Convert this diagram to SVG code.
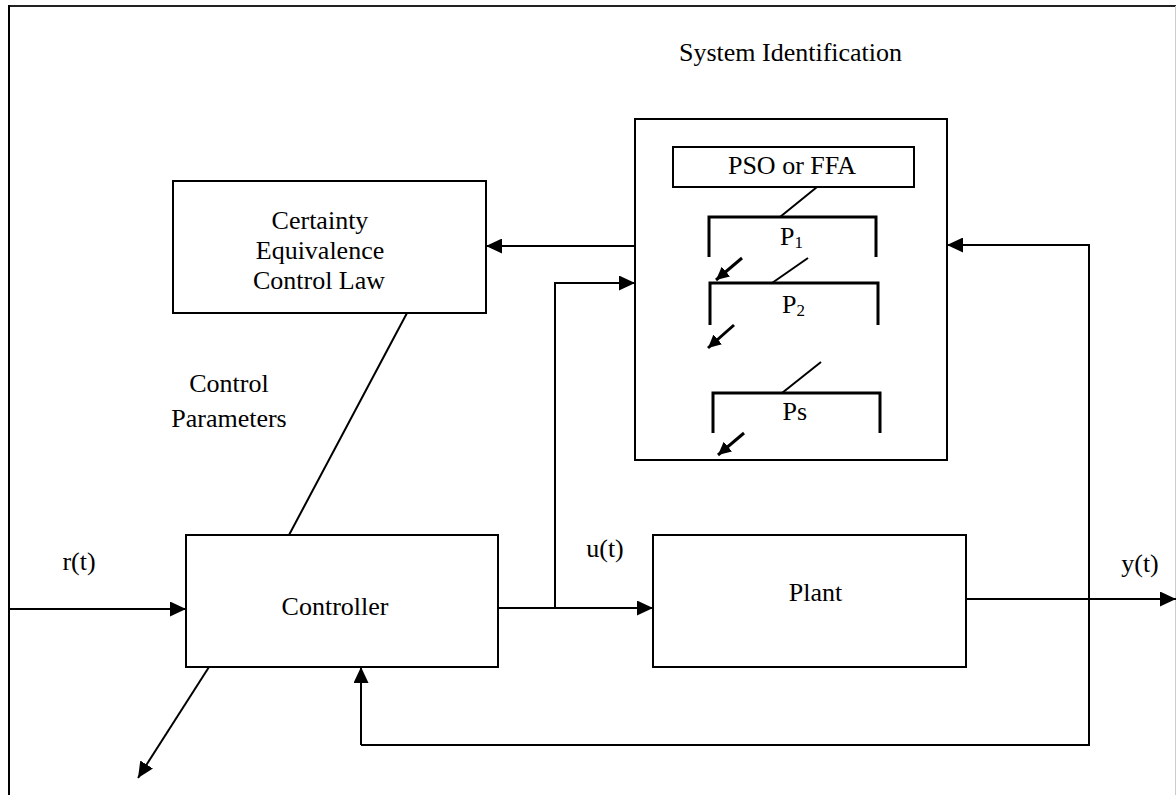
<svg xmlns="http://www.w3.org/2000/svg" width="1176" height="795" viewBox="0 0 1176 795">
  <style>
    .box { fill: #ffffff; stroke: #000000; stroke-width: 2; }
    .ln { fill: none; stroke: #000000; stroke-width: 2; }
    .thick { fill: none; stroke: #000000; stroke-width: 3; }
    .lbl { font-family: "Liberation Serif", "Times New Roman", serif; font-size: 26px; fill: #000000; }
    .mid { text-anchor: middle; }
  </style>
  <defs>
    <marker id="arrow" markerUnits="userSpaceOnUse" markerWidth="16" markerHeight="15" refX="16" refY="7.5" orient="auto">
      <path d="M0,0 L16,7.5 L0,15 z" fill="#000000"/>
    </marker>
    <marker id="arrow-small" markerUnits="userSpaceOnUse" markerWidth="13" markerHeight="13" refX="13" refY="6.5" orient="auto">
      <path d="M0,0 L13,6.5 L0,13 z" fill="#000000"/>
    </marker>
  </defs>

  <rect x="0" y="0" width="1176" height="795" fill="#ffffff"/>

  <!-- page frame -->
  <g id="frame">
    <line x1="9" y1="6" x2="1176" y2="6" stroke="#222222" stroke-width="2"/>
    <line x1="9" y1="5" x2="9" y2="795" stroke="#000000" stroke-width="2"/>
    <line x1="1175.5" y1="6" x2="1175.5" y2="795" stroke="#cccccc" stroke-width="1"/>
  </g>

  <!-- connectors -->
  <g id="connectors">
    <path class="ln" d="M9,609 H186" marker-end="url(#arrow)"/>
    <path class="ln" d="M498,608 H653" marker-end="url(#arrow)"/>
    <path class="ln" d="M555,608 V283 H635" marker-end="url(#arrow)"/>
    <path class="ln" d="M635,246 H486" marker-end="url(#arrow)"/>
    <path class="ln" d="M966,599 H1176" marker-end="url(#arrow)"/>
    <path class="ln" d="M361,745 H1089 V245 H947" marker-end="url(#arrow)"/>
    <path class="ln" d="M361,745 V667" marker-end="url(#arrow)"/>
    <path class="ln" d="M407,313 L289,535"/>
    <path class="ln" d="M209,667 L138,778" marker-end="url(#arrow)"/>
  </g>

  <!-- system identification block -->
  <g id="system-identification">
    <text class="lbl mid" x="790.5" y="61">System Identification</text>
    <rect class="box" x="635" y="119" width="312" height="341"/>
    <g id="pso-ffa">
      <rect class="box" x="673" y="147" width="241" height="40"/>
      <text class="lbl mid" x="792" y="174">PSO or FFA</text>
    </g>
    <line class="ln" x1="817" y1="187" x2="780" y2="217"/>
    <g id="p1">
      <path class="thick" d="M709,257 V217 H876 V257"/>
      <text class="lbl" x="780" y="245">P<tspan font-size="17" dy="3">1</tspan></text>
      <path class="thick" d="M742,258 L716,280" marker-end="url(#arrow-small)"/>
    </g>
    <line class="ln" x1="808" y1="258" x2="772" y2="283"/>
    <g id="p2">
      <path class="thick" d="M710,325 V283 H878 V325"/>
      <text class="lbl" x="782" y="313">P<tspan font-size="17" dy="3">2</tspan></text>
      <path class="thick" d="M734,325 L708,348" marker-end="url(#arrow-small)"/>
    </g>
    <line class="ln" x1="821" y1="362" x2="782" y2="393"/>
    <g id="ps">
      <path class="thick" d="M713,433 V393 H880 V433"/>
      <text class="lbl" x="782.5" y="420">Ps</text>
      <path class="thick" d="M744,433 L718,455" marker-end="url(#arrow-small)"/>
    </g>
  </g>

  <!-- certainty equivalence control law -->
  <g id="control-law">
    <rect class="box" x="173" y="181" width="313" height="132"/>
    <text class="lbl mid" x="320" y="229">Certainty</text>
    <text class="lbl mid" x="320" y="259">Equivalence</text>
    <text class="lbl mid" x="319" y="289">Control Law</text>
  </g>

  <g id="control-parameters">
    <text class="lbl mid" x="229" y="392">Control</text>
    <text class="lbl mid" x="229" y="427">Parameters</text>
  </g>

  <!-- controller -->
  <g id="controller">
    <rect class="box" x="186" y="535" width="312" height="132"/>
    <text class="lbl mid" x="335" y="615">Controller</text>
  </g>

  <!-- plant -->
  <g id="plant">
    <rect class="box" x="653" y="535" width="313" height="132"/>
    <text class="lbl mid" x="815.5" y="601">Plant</text>
  </g>

  <!-- signal labels -->
  <g id="signals">
    <text class="lbl mid" x="79" y="570">r(t)</text>
    <text class="lbl mid" x="605" y="557">u(t)</text>
    <text class="lbl mid" x="1140" y="572">y(t)</text>
  </g>
</svg>
